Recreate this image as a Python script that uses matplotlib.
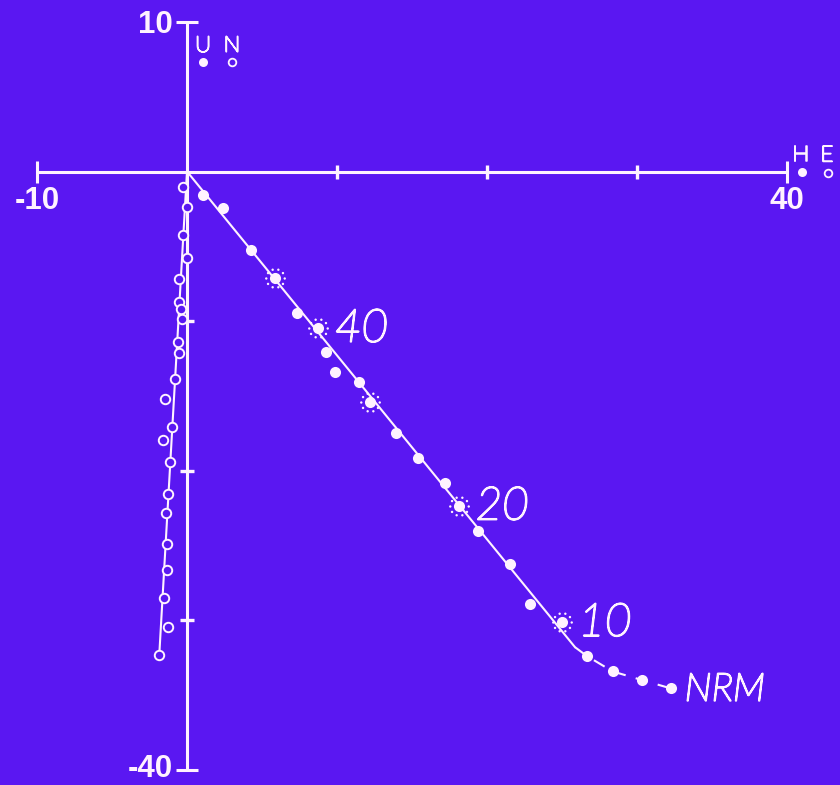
import numpy as np
import matplotlib
matplotlib.use("Agg")
import matplotlib.pyplot as plt
import matplotlib.patheffects as pe
import matplotlib.transforms as mtransforms
from matplotlib.path import Path

# ---------------- data ----------------
# horizontal projection (solid dots)
horiz_x = [1.09, 2.42, 4.27, 5.87, 7.31, 8.75, 9.27, 9.89, 11.49, 12.20, 13.93,
           15.42, 17.20, 18.13, 19.38, 21.53, 22.87, 24.98, 26.65, 28.38, 30.35, 32.25]
horiz_y = [-1.60, -2.42, -5.27, -7.15, -9.45, -10.45, -12.05, -13.38, -14.05, -15.38, -17.45,
           -19.15, -20.82, -22.33, -24.05, -26.27, -28.93, -30.11, -32.38, -33.42, -34.00, -34.55]
# vertical projection (open circles)
vert_x = [-0.29, 0.02, -0.25, 0.02, -0.51, -0.51, -0.40, -0.35, -0.58, -0.51, -0.80,
          -1.47, -1.02, -1.58, -1.13, -1.25, -1.40, -1.31, -1.31, -1.53, -1.25, -1.85]
vert_y = [-1.05, -2.38, -4.22, -5.78, -7.20, -8.71, -9.22, -9.89, -11.38, -12.15, -13.89,
          -15.20, -17.11, -17.93, -19.40, -21.55, -22.80, -24.93, -26.65, -28.49, -30.45, -32.33]

starred_idx = [3, 5, 9, 13, 17]
step_labels = {5: "40", 13: "20", 17: "10", 21: "NRM"}

# fitted lines
fit_h_x = [0, 25.87]
fit_h_y = [0, -31.80]
fit_v_x = [0, -1.85]
fit_v_y = [0, -32.33]
dashed_start = 18  # dashed curve from knee through these points

x_cap_ticks = [-10, 40]
x_cap_labels = ["-10", "40"]
x_small_ticks = [10, 20, 30]
y_cap_ticks = [-40, 10]
y_cap_labels = ["-40", "10"]
y_small_ticks = [-30, -20, -10]

# ---------------- style ----------------
BG = "#5a17f2"
FG = "#fff2ff"

fig = plt.figure(figsize=(8.4, 7.85), dpi=100)
fig.patch.set_facecolor(BG)
ax = fig.add_axes([0, 0, 1, 1])
ax.set_facecolor(BG)
ax.set_xlim(-187 / 15, (840 - 187) / 15)
ax.set_ylim((171.5 - 785) / 14.96, 171.5 / 14.96)

for s in ["top", "right"]:
    ax.spines[s].set_visible(False)
ax.spines["left"].set_position(("data", 0))
ax.spines["bottom"].set_position(("data", 0))
ax.spines["left"].set_bounds(min(y_cap_ticks), max(y_cap_ticks))
ax.spines["bottom"].set_bounds(min(x_cap_ticks), max(x_cap_ticks))
for s in ["left", "bottom"]:
    ax.spines[s].set_color(FG)
    ax.spines[s].set_linewidth(2.2)
    ax.spines[s].set_capstyle("butt")

ax.set_xticks(x_cap_ticks)
ax.set_xticklabels(x_cap_labels)
ax.set_xticks(x_small_ticks, minor=True)
ax.set_yticks(y_cap_ticks)
ax.set_yticklabels(y_cap_labels)
ax.set_yticks(y_small_ticks, minor=True)

ax.tick_params(which="major", direction="inout", length=16.5, width=2.2,
               color=FG, labelcolor=FG, pad=2.0)
ax.tick_params(which="minor", direction="inout", length=10, width=2.4, color=FG)
for lab in ax.get_xticklabels() + ax.get_yticklabels():
    lab.set_fontfamily("Liberation Sans")
    lab.set_fontweight("bold")
    lab.set_fontsize(22.5)
# nudge the bottom "-40" label slightly up so it stays inside the picture
up = mtransforms.ScaledTranslation(0, 3 / 72, fig.dpi_scale_trans)
ylabs = ax.get_yticklabels()
ylabs[0].set_transform(ylabs[0].get_transform() + up)

# fit lines
ax.plot(fit_h_x, fit_h_y, color=FG, lw=1.5, zorder=2, solid_capstyle="round")
ax.plot(fit_v_x, fit_v_y, color=FG, lw=1.5, zorder=2)
ax.plot([fit_h_x[1]] + horiz_x[dashed_start:], [fit_h_y[1]] + horiz_y[dashed_start:],
        color=FG, lw=1.5, dashes=(6, 5), zorder=2)

# markers
ax.plot(horiz_x, horiz_y, "o", ms=8, color=FG, mec="none", zorder=4)
ax.plot(vert_x, vert_y, "o", ms=6.8, mfc=BG, mec=FG, mew=1.4, zorder=4)

# dotted ring for marked steps
n = 10
verts, codes = [], []
for k in range(n):
    a = 2 * np.pi * k / n
    c = Path.circle((np.cos(a), np.sin(a)), 0.13)
    verts.append(c.vertices)
    codes.append(c.codes)
ring = Path(np.concatenate(verts), np.concatenate(codes))
ax.plot([horiz_x[i] for i in starred_idx], [horiz_y[i] for i in starred_idx],
        ls="none", marker=ring, ms=15, color=FG, mec="none", zorder=4)

# step labels (thin, uniform-stroke lettering)
stroke = [pe.withStroke(linewidth=1.4, foreground=FG)]
lbl_font = dict(family="Lato", style="italic", weight="light", color=FG)
for i, t in step_labels.items():
    size = 28 if t == "NRM" else 33
    dx = 10 if t == "NRM" else 12
    ax.annotate(t, (horiz_x[i], horiz_y[i]), xytext=(dx, -1), textcoords="offset points",
                ha="left", va="center", fontsize=size, path_effects=stroke, **lbl_font)

# legend keys (component letters)
key_stroke = [pe.withStroke(linewidth=1.1, foreground=FG)]
key_font = dict(family="Lato", weight="light", color=FG, fontsize=16, ha="center",
                va="center", path_effects=key_stroke)
ax.text(1.07, 8.4, "U", **key_font)
ax.text(3.0, 8.4, "N", **key_font)
ax.plot([1.07], [7.33], "o", ms=6.5, color=FG, mec="none")
ax.plot([3.0], [7.33], "o", ms=5.5, mfc=BG, mec=FG, mew=1.3)
ax.text(40.93, 1.07, "H", **key_font)
ax.text(42.67, 1.07, "E", **key_font)
ax.plot([41.0], [0.0], "o", ms=6.5, color=FG, mec="none")
ax.plot([42.73], [-0.07], "o", ms=5.5, mfc=BG, mec=FG, mew=1.3)

fig.savefig("out.png", dpi=100, facecolor=BG)
